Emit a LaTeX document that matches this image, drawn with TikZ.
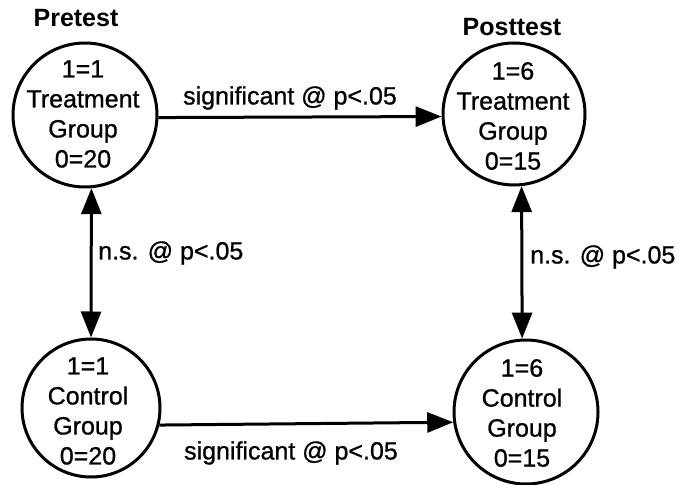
\documentclass[tikz,border=0pt]{standalone}
\usepackage{fontspec}
\setmainfont{Liberation Sans}
\newfontfamily\scanfont[FakeBold=0.9]{Liberation Sans}
\usetikzlibrary{arrows.meta}
\begin{document}
\begin{tikzpicture}[x=1pt,y=-1pt,
  grp/.style={draw=black,circle,line width=3pt,inner sep=0pt},
  grptext/.style={align=center,font=\scanfont\fontsize{25}{30}\selectfont,inner sep=0pt},
  hdr/.style={font=\fontsize{25}{30}\selectfont\bfseries,inner sep=0pt},
  lbl/.style={font=\scanfont\fontsize{25}{30}\selectfont,inner sep=0pt},
  arr/.style={line width=3pt,-{Triangle[length=26pt,width=20pt]}},
  darr/.style={line width=3pt,{Triangle[length=26pt,width=20pt]}-{Triangle[length=26pt,width=20pt]}}]
\useasboundingbox (0,0) rectangle (687,484);
\fill[white] (0,0) rectangle (687,484);
% circles
\node[grp,minimum size=144pt] (TL) at (85,115) {};
\node[grp,minimum size=142pt] (TR) at (514,114) {};
\node[grp,minimum size=138pt] (BL) at (91,408) {};
\node[grp,minimum size=144pt] (BR) at (526,412) {};
% texts in circles
\node[grptext] (TLt) at (83,114) {1=1\\Treatment\\Group\\0=20};
\node[grptext] (TRt) at (513,116) {1=6\\Treatment\\Group\\0=15};
\node[grptext] (BLt) at (88,411) {1=1\\Control\\Group\\0=20};
\node[grptext] (BRt) at (522,413) {1=6\\Control\\Group\\0=15};
% headers
\node[hdr] (pre) at (76,18) {Pretest};
\node[hdr] (post) at (512,27) {Posttest};
% connectors
\draw[arr] (TL.-2) -- (TR.182);
\draw[arr] (BL.-14) -- (BR.188);
\draw[darr] (TL.-85) -- (BL.90);
\draw[darr] (TR.-84) -- (BR.93);
% labels
\node[lbl] (sigtop) at (290,98) {significant @ p<.05};
\node[lbl] (sigbot) at (291,453) {significant @ p<.05};
\node[lbl,anchor=west] (nsl) at (98,253) {n.s. @ p<.05};
\node[lbl,anchor=west] (nsr) at (530,257) {n.s. @ p<.05};
\end{tikzpicture}
\end{document}
